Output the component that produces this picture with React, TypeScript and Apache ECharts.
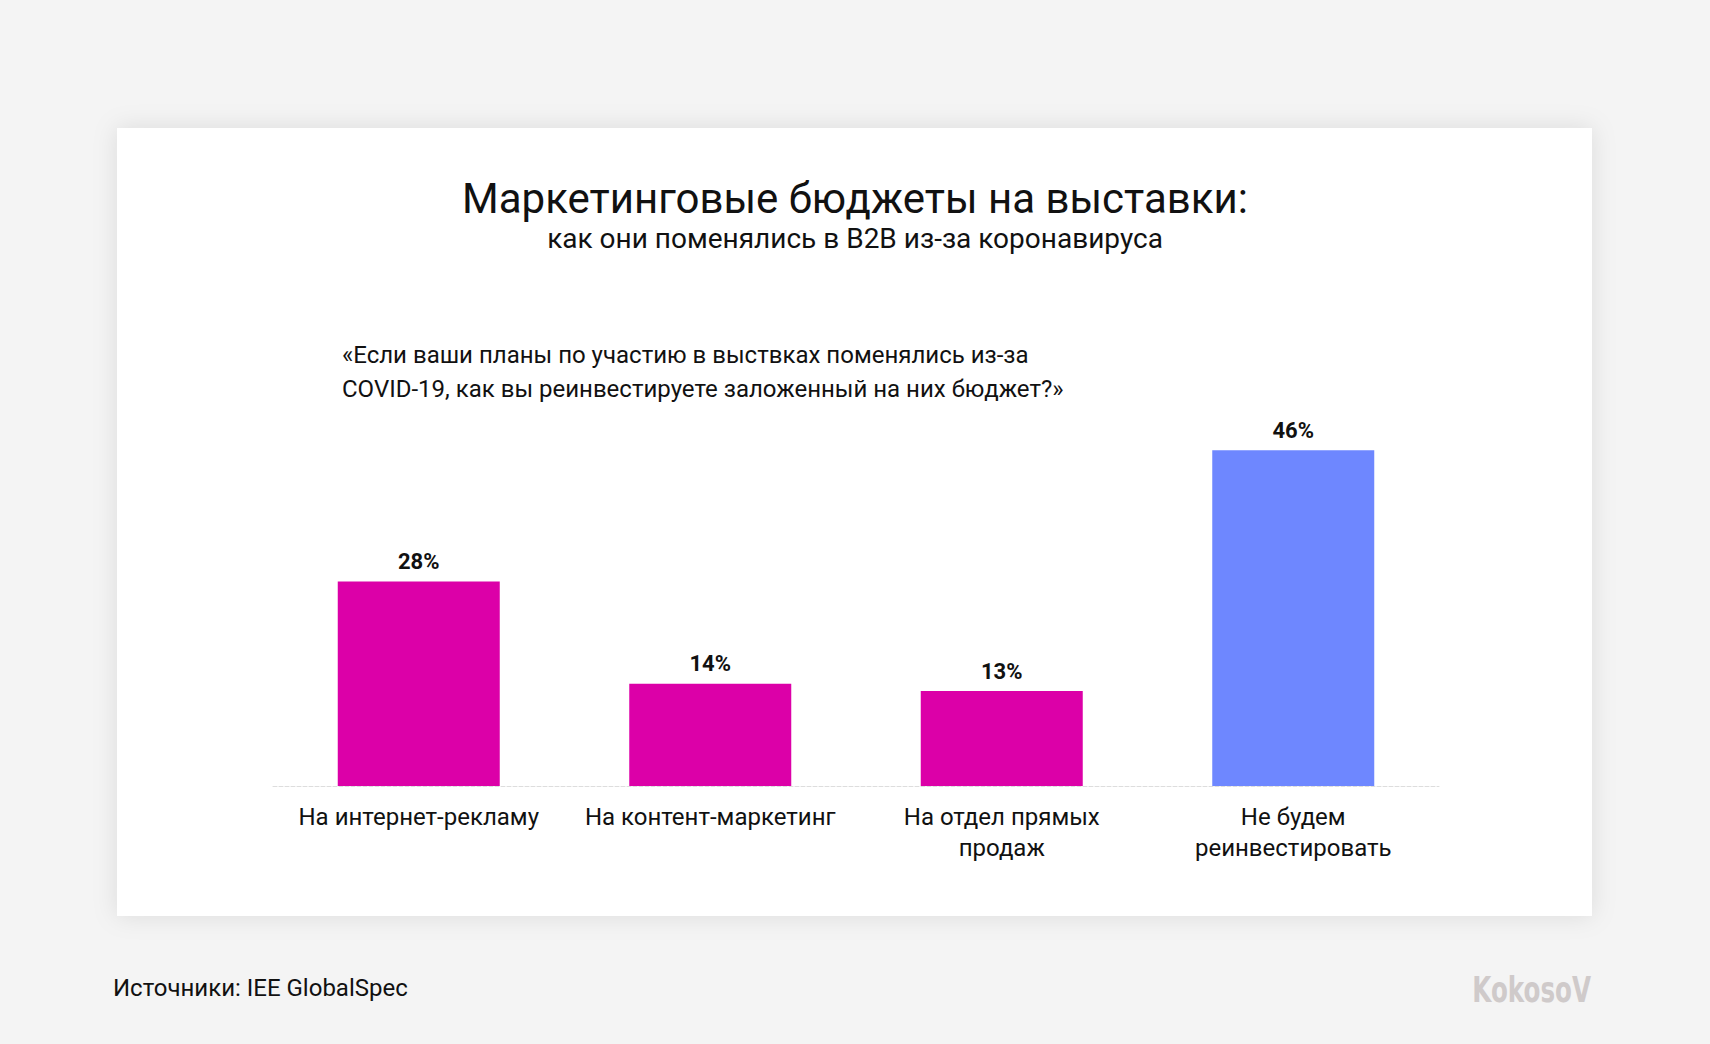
import React, { useEffect, useRef } from "react";
import * as echarts from "echarts";
import type { EChartsType } from "echarts";

const categories = [
  "На интернет-рекламу",
  "На контент-маркетинг",
  "На отдел прямых\nпродаж",
  "Не будем\nреинвестировать",
];
const values = [28, 14, 13, 46];
const barColors = ["#dc00a8", "#dc00a8", "#dc00a8", "#6e87ff"];

const titleText = "Маркетинговые бюджеты на выставки:";
const subtitleText = "как они поменялись в B2B из-за коронавируса";
const questionLines = [
  "«Если ваши планы по участию в выствках поменялись из-за",
  "COVID-19, как вы реинвестируете заложенный на них бюджет?»",
];
const sourceText = "Источники: IEE GlobalSpec";
const logoText = "KokosoV";

const FONT = "Roboto, 'Noto Sans', sans-serif";

const App: React.FC = () => {
  const chartRef = useRef<HTMLDivElement>(null);

  useEffect(() => {
    document.body.style.margin = "0";
    if (!chartRef.current) return;
    const myChart: EChartsType = echarts.init(chartRef.current, undefined, {
      renderer: "svg",
    });

    const option = {
      animation: false,
      backgroundColor: "#f4f4f4",
      textStyle: { fontFamily: FONT },
      graphic: [
        {
          type: "rect",
          z: -10,
          shape: { x: 117, y: 128, width: 1475, height: 788 },
          style: {
            fill: "#ffffff",
            shadowBlur: 24,
            shadowColor: "rgba(0,0,0,0.10)",
            shadowOffsetY: 0,
          },
        },
        {
          type: "text",
          x: 855,
          y: 198,
          style: {
            text: titleText,
            font: `42px ${FONT}`,
            fill: "#111111",
            textAlign: "center",
            textVerticalAlign: "middle",
          },
        },
        {
          type: "text",
          x: 855,
          y: 238,
          style: {
            text: subtitleText,
            font: `28px ${FONT}`,
            fill: "#111111",
            textAlign: "center",
            textVerticalAlign: "middle",
          },
        },
        ...questionLines.map((line, i) => ({
          type: "text",
          x: 342,
          y: 355 + i * 34,
          style: {
            text: line,
            font: `24px ${FONT}`,
            fill: "#111111",
            textAlign: "left",
            textVerticalAlign: "middle",
          },
        })),
        {
          type: "text",
          x: 113,
          y: 988,
          style: {
            text: sourceText,
            font: `24px ${FONT}`,
            fill: "#111111",
            textAlign: "left",
            textVerticalAlign: "middle",
          },
        },
        {
          type: "text",
          x: 1591,
          y: 990,
          scaleX: 0.76,
          style: {
            text: logoText,
            font: `bold 36px 'Liberation Sans Narrow', 'DejaVu Sans Condensed', sans-serif`,
            fill: "#cfcaca",
            textAlign: "right",
            textVerticalAlign: "middle",
          },
        },
      ],
      grid: { left: 273, right: 271, top: 421, bottom: 258 },
      xAxis: {
        type: "category" as const,
        data: categories,
        axisLine: {
          show: true,
          lineStyle: { color: "#dddddd", type: "dashed" as const, width: 1 },
        },
        axisTick: { show: false },
        axisLabel: {
          interval: 0,
          fontSize: 24,
          color: "#111111",
          margin: 15,
          lineHeight: 31,
          fontFamily: FONT,
        },
      },
      yAxis: {
        type: "value" as const,
        min: 0,
        max: 50,
        show: false,
        splitLine: { show: false },
      },
      series: [
        {
          type: "bar",
          barWidth: 162,
          data: values.map((v, i) => ({
            value: v,
            itemStyle: { color: barColors[i] },
          })),
          label: {
            show: true,
            position: "top" as const,
            distance: 9,
            formatter: "{c}%",
            fontSize: 22,
            fontWeight: "bold" as const,
            color: "#111111",
            fontFamily: FONT,
          },
        },
      ],
    };

    myChart.setOption(option);

    const resizeChart = () => myChart.resize();
    window.addEventListener("resize", resizeChart);

    return () => {
      window.removeEventListener("resize", resizeChart);
      myChart.dispose();
    };
  }, []);

  return <div ref={chartRef} style={{ width: "1710px", height: "1044px" }}></div>;
};

export default App;
